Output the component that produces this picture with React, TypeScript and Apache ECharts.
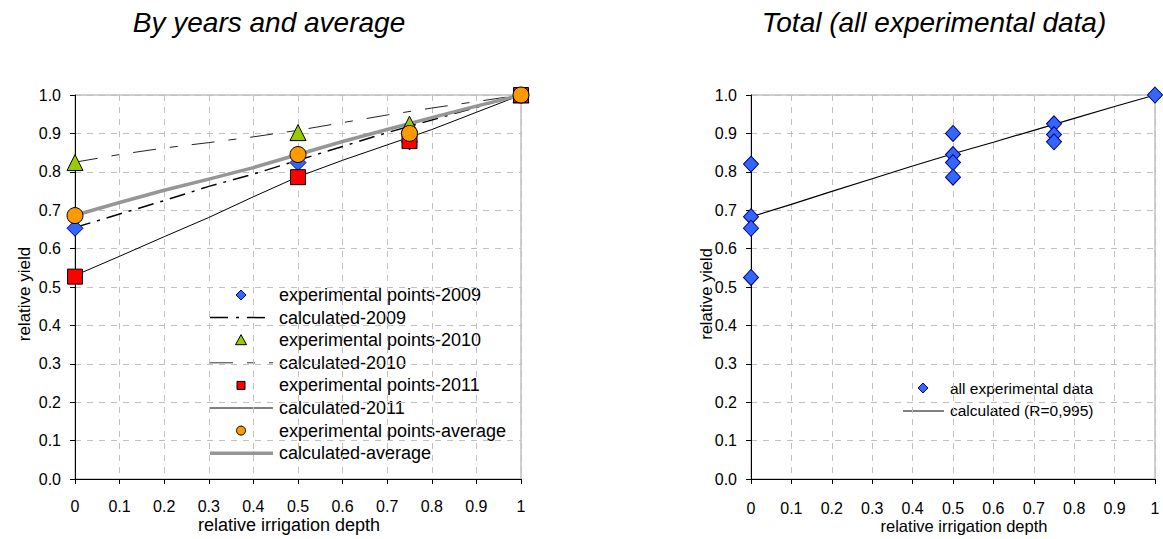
import React, { useEffect, useRef } from "react";
import * as echarts from "echarts";

// ---------- data ----------
const xTicks = [0, 0.1, 0.2, 0.3, 0.4, 0.5, 0.6, 0.7, 0.8, 0.9, 1];

// calculated curves (left chart)
const calcX = [0, 0.1, 0.2, 0.3, 0.4, 0.5, 0.6, 0.7, 0.8, 0.9, 1];
const calc2009 = [0.655, 0.69, 0.725, 0.762, 0.794, 0.83, 0.866, 0.902, 0.935, 0.968, 1.0];
const calc2010 = [0.825, 0.845, 0.862, 0.876, 0.891, 0.908, 0.928, 0.948, 0.966, 0.983, 1.0];
const calc2011 = [0.53, 0.58, 0.631, 0.681, 0.735, 0.787, 0.83, 0.87, 0.91, 0.955, 1.0];
const calcAvg = [0.687, 0.72, 0.752, 0.781, 0.811, 0.845, 0.879, 0.91, 0.941, 0.971, 1.0];

// experimental points (left chart)
const expX = [0, 0.5, 0.75, 1];
const exp2009 = [0.653, 0.824, 0.878, 1.0];
const exp2010 = [0.824, 0.902, 0.924, 1.0];
const exp2011 = [0.527, 0.786, 0.88, 1.0];
const expAvg = [0.686, 0.845, 0.9, 1.0];

// right chart
const allX = [0, 0, 0, 0, 0.5, 0.5, 0.5, 0.5, 0.75, 0.75, 0.75, 1];
const allY = [0.82, 0.683, 0.653, 0.525, 0.9, 0.845, 0.824, 0.786, 0.925, 0.897, 0.878, 1.0];
const calcAll = [0.683, 0.715, 0.749, 0.782, 0.815, 0.847, 0.877, 0.908, 0.939, 0.97, 1.0];

const leftLegend = [
  "experimental points-2009",
  "calculated-2009",
  "experimental points-2010",
  "calculated-2010",
  "experimental points-2011",
  "calculated-2011",
  "experimental points-average",
  "calculated-average",
];
const rightLegend = ["all experimental data", "calculated (R=0,995)"];

const FONT = "'Liberation Sans', Arial, sans-serif";

const zip = (xs: number[], ys: number[]) => xs.map((x, i) => [x, ys[i]]);

export default function App() {
  const ref = useRef<HTMLDivElement>(null);
  useEffect(() => {
    if (!ref.current) return;
    const chart = echarts.init(ref.current, undefined, { renderer: "svg" });

    const xAxisBase = (gridIndex: number, margin: number, nameGap: number, nameSize: number, namePad: number[]) => ({
      type: "value",
      gridIndex,
      min: 0,
      max: 1,
      interval: 0.1,
      name: "relative irrigation depth",
      nameLocation: "middle",
      nameGap,
      nameMoveOverlap: false,
      nameTextStyle: { fontFamily: FONT, fontSize: nameSize, color: "#000", padding: namePad },
      axisLine: { show: true, onZero: false, lineStyle: { color: "#000", width: 1 } },
      axisTick: { show: true, length: 5, lineStyle: { color: "#000" } },
      axisLabel: {
        margin,
        fontFamily: FONT,
        fontSize: 16,
        color: "#000",
        formatter: (v: number) => (v === 0 ? "0" : v === 1 ? "1" : v.toFixed(1)),
      },
      splitLine: { show: true, lineStyle: { color: "#c0c0c0", type: [6, 6], width: 1 } },
    });
    const yAxisBase = (gridIndex: number, nameGap: number, nameSize: number) => ({
      type: "value",
      gridIndex,
      min: 0,
      max: 1,
      interval: 0.1,
      name: "relative yield",
      nameLocation: "middle",
      nameGap,
      nameMoveOverlap: false,
      nameTextStyle: { fontFamily: FONT, fontSize: nameSize, color: "#000", padding: [0, 14, 0, 0] },
      axisLine: { show: true, onZero: false, lineStyle: { color: "#000", width: 1 } },
      axisTick: { show: true, length: 5, lineStyle: { color: "#000" } },
      axisLabel: {
        margin: 14,
        fontFamily: FONT,
        fontSize: 16,
        color: "#000",
        formatter: (v: number) => v.toFixed(1),
      },
      splitLine: { show: true, lineStyle: { color: "#c0c0c0", type: [6, 6], width: 1 } },
    });

    const lineSeries = (name: string, ys: number[], style: any, xi: number) => ({
      name,
      type: "line",
      xAxisIndex: xi,
      yAxisIndex: xi,
      data: zip(calcX, ys),
      symbol: "none",
      lineStyle: style,
      z: 2,
      silent: true,
    });
    const scatterSeries = (name: string, xs: number[], ys: number[], symbol: string, size: any, fill: string, border: string, xi: number, z: number) => ({
      name,
      type: "scatter",
      xAxisIndex: xi,
      yAxisIndex: xi,
      data: zip(xs, ys),
      symbol,
      symbolSize: size,
      itemStyle: { color: fill, borderColor: border, borderWidth: 1, opacity: 1 },
      z,
    });

    // custom legends
    const lx = 241, lTextX = 279, lLineX1 = 210, lLineX2 = 273;
    const rowY = (i: number) => 295 + i * 22.6;
    const legendText = (text: string, x: number, y: number, size: number) => ({
      type: "text",
      style: { text, x, y, fill: "#000", font: `${size}px ${FONT}`, verticalAlign: "middle", align: "left" },
    });
    const hline = (x1: number, x2: number, y: number, stroke: string, width: number, dash?: number[]) => ({
      type: "line",
      shape: { x1, y1: y, x2, y2: y },
      style: { stroke, lineWidth: width, lineDash: dash },
    });
    const diamond = (cx: number, cy: number, r: number) => ({
      type: "polygon",
      shape: { points: [[cx, cy - r], [cx + r, cy], [cx, cy + r], [cx - r, cy]] },
      style: { fill: "#3366ff", stroke: "#000080", lineWidth: 1 },
    });

    const graphics: any[] = [
      diamond(lx, rowY(0), 5),
      hline(lLineX1, lLineX2, rowY(1), "#000", 1.5, [18, 8, 3, 8]),
      {
        type: "polygon",
        shape: { points: [[lx, rowY(2) - 5.5], [lx + 5.5, rowY(2) + 4.5], [lx - 5.5, rowY(2) + 4.5]] },
        style: { fill: "#99cc00", stroke: "#000", lineWidth: 1 },
      },
      hline(lLineX1, lLineX2, rowY(3), "#333", 1, [23, 14, 8, 14]),
      { type: "rect", shape: { x: lx - 4, y: rowY(4) - 4, width: 8, height: 8 }, style: { fill: "#ff0000", stroke: "#000", lineWidth: 1 } },
      hline(lLineX1, lLineX2, rowY(5), "#000", 1),
      { type: "circle", shape: { cx: lx, cy: rowY(6), r: 4.5 }, style: { fill: "#ff9900", stroke: "#000", lineWidth: 1 } },
      hline(lLineX1, lLineX2, rowY(7), "#969696", 3.5),
      ...leftLegend.map((t, i) => legendText(t, lTextX, rowY(i), 18)),
      diamond(923, 388, 5),
      hline(903, 944, 411, "#000", 1),
      legendText(rightLegend[0], 950, 388, 15.5),
      legendText(rightLegend[1], 950, 410.5, 15.5),
    ];

    chart.setOption({
      animation: false,
      backgroundColor: "#fff",
      title: [
        {
          text: "By years and average",
          left: 269,
          top: 8,
          padding: 0,
          textAlign: "center",
          textStyle: { fontFamily: FONT, fontSize: 28, fontStyle: "italic", fontWeight: "normal", color: "#000" },
        },
        {
          text: "Total (all experimental data)",
          left: 934,
          top: 8,
          padding: 0,
          textAlign: "center",
          textStyle: { fontFamily: FONT, fontSize: 28, fontStyle: "italic", fontWeight: "normal", color: "#000" },
        },
      ],
      grid: [
        { left: 75, top: 95, width: 446, height: 387, show: true, borderColor: "#a0a0a0", borderWidth: 1, backgroundColor: "transparent" },
        { left: 751, top: 95, width: 404, height: 385, show: true, borderColor: "#a0a0a0", borderWidth: 1, backgroundColor: "transparent" },
      ],
      xAxis: [xAxisBase(0, 19, 37, 18, [0, 18, 0, 0]), xAxisBase(1, 21, 38, 16.5, [0, 0, 0, 22])],
      yAxis: [yAxisBase(0, 42, 17), yAxisBase(1, 37, 16.5)],
      series: [
        lineSeries("calculated-2009", calc2009, { color: "#000", width: 1.5, type: [16, 7, 3, 7] }, 0),
        lineSeries("calculated-2010", calc2010, { color: "#222", width: 1, type: [23, 14, 8, 14] }, 0),
        lineSeries("calculated-2011", calc2011, { color: "#000", width: 1, type: "solid" }, 0),
        lineSeries("calculated-average", calcAvg, { color: "#969696", width: 3.5, type: "solid" }, 0),
        scatterSeries("experimental points-2009", expX, exp2009, "diamond", 16, "#3366ff", "#000080", 0, 3),
        scatterSeries("experimental points-2010", expX, exp2010, "triangle", 16, "#99cc00", "#000", 0, 4),
        scatterSeries("experimental points-2011", expX, exp2011, "rect", 15, "#ff0000", "#000", 0, 5),
        scatterSeries("experimental points-average", expX, expAvg, "circle", 16, "#ff9900", "#000", 0, 6),
        {
          name: "calculated (R=0,995)",
          type: "line",
          xAxisIndex: 1,
          yAxisIndex: 1,
          data: zip(calcX, calcAll),
          symbol: "none",
          lineStyle: { color: "#000", width: 1.2 },
          z: 2,
        },
        scatterSeries("all experimental data", allX, allY, "diamond", [15, 16], "#3366ff", "#000080", 1, 3),
      ],
      graphic: graphics,
    });
    return () => chart.dispose();
  }, []);
  return <div ref={ref} style={{ position: "fixed", left: 0, top: 0, width: 1163, height: 539 }} />;
}
